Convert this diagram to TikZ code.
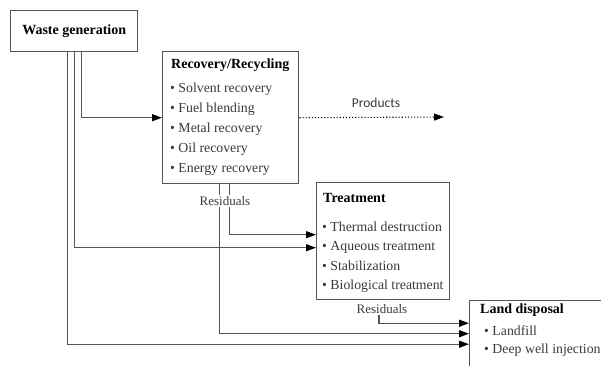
\documentclass[tikz,border=0pt]{standalone}
\usepackage{fontspec}
\setmainfont{Liberation Serif}
\newfontfamily\prodfont{Carlito}
\usetikzlibrary{arrows.meta}
\definecolor{linegray}{HTML}{555555}
\definecolor{itemgray}{HTML}{3A3A3A}
\begin{document}
\begin{tikzpicture}[x=1pt,y=-1pt,
  box/.style={draw=linegray, line width=1.4pt, inner sep=0pt, anchor=north west},
  ttl/.style={font=\bfseries\fontsize{14}{16}\selectfont, inner sep=0pt},
  itm/.style={font=\fontsize{13.8}{16}\selectfont, text=itemgray, anchor=west, inner sep=0pt},
  lbl/.style={font=\fontsize{13}{15}\selectfont, text=itemgray, fill=white, inner sep=1pt},
  conn/.style={draw=linegray, line width=1.4pt},
  arr/.style={conn, -{Triangle[length=10pt,width=7pt,color=black]}},
  dotarr/.style={draw=black, line width=1.1pt, dotted, -{Triangle[length=10pt,width=7pt]}}
]
\useasboundingbox (0,0) rectangle (601,365);
\fill[white] (0,0) rectangle (601,365);

% boxes
\node[box, minimum width=127pt, minimum height=41pt] (wg) at (10,10) {};
\node[box, minimum width=136pt, minimum height=132pt] (rr) at (162,51) {};
\node[box, minimum width=133pt, minimum height=117pt] (tr) at (316,182) {};
\node[box, minimum width=140pt, minimum height=66pt] (ld) at (469,300) {};

% texts
\node[ttl] (wgt) at (wg.center) {Waste generation};

\node[ttl, anchor=west] (rrt) at (171,65) {Recovery/Recycling};
\node[itm] (rr1) at (170,89) {\textbullet~Solvent recovery};
\node[itm] (rr2) at (170,109) {\textbullet~Fuel blending};
\node[itm] (rr3) at (170,129) {\textbullet~Metal recovery};
\node[itm] (rr4) at (170,149) {\textbullet~Oil recovery};
\node[itm] (rr5) at (170,169) {\textbullet~Energy recovery};

\node[ttl, anchor=west] (trt) at (323,198) {Treatment};
\node[itm] (tr1) at (322,227) {\textbullet~Thermal destruction};
\node[itm] (tr2) at (322,247) {\textbullet~Aqueous treatment};
\node[itm] (tr3) at (322,266) {\textbullet~Stabilization};
\node[itm] (tr4) at (322,286) {\textbullet~Biological treatment};

\node[ttl, anchor=west] (ldt) at (480,310) {Land disposal};
\node[itm] (ld1) at (484,331) {\textbullet~Landfill};
\node[itm] (ld2) at (484,350) {\textbullet~Deep well injection};

% connectors from waste generation
\draw[arr] ([xshift=7.5pt]wg.south) |- (rr.west);
\draw[arr] ([xshift=0.5pt]wg.south) |- ([yshift=-6.5pt]tr.west);
\draw[arr] ([xshift=-6.5pt]wg.south) |- ([yshift=-10.5pt]ld.west);

% residuals from recovery
\draw[arr] ([xshift=-1pt]rr.south) |- ([yshift=6.5pt]tr.west);
\draw[arr] ([xshift=-11pt]rr.south) |- (ld.west);
\node[lbl] (rrres) at (225,201) {Residuals};

% residuals from treatment
\node[lbl] (trres) at (382,309) {Residuals};
\draw[arr] ([xshift=-3pt]trres.south) |- ([yshift=10.5pt]ld.west);

% products
\coordinate (prodend) at (444,117);
\draw[dotarr] (rr.east) -- (prodend);
\node[font=\prodfont\fontsize{13.5}{15}\selectfont, text=itemgray, inner sep=0pt] (prod) at (376,103) {Products};
\end{tikzpicture}
\end{document}
